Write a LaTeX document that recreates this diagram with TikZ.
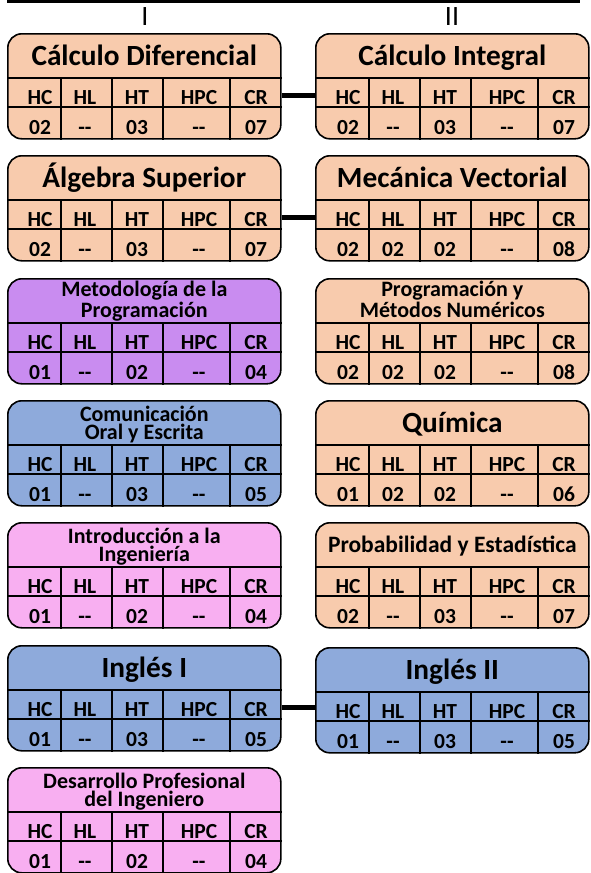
\documentclass[tikz,border=0pt]{standalone}
\usepackage{fontspec}
\setmainfont{Carlito}
\usetikzlibrary{positioning}
\definecolor{peach}{HTML}{F8CBAD}
\definecolor{lila}{HTML}{C98CF0}
\definecolor{azul}{HTML}{8EAADB}
\definecolor{rosa}{HTML}{F8AFF1}
\newcommand{\nohrs}{-{}-}

\begin{document}
\begin{tikzpicture}
  [x=1pt,y=-1pt,every node/.style={font=\bfseries}]
  \tikzstyle{course} = [draw,line width=1.6pt,rounded corners=14pt,minimum width=273pt,minimum height=105pt,inner sep=0pt,anchor=north west]
  \tikzstyle{ttlbig} = [font=\fontsize{29.3}{32}\selectfont\bfseries,anchor=base,inner sep=0pt]
  \tikzstyle{ttlsmall} = [font=\fontsize{22}{18}\selectfont\bfseries,anchor=base,align=center,inner sep=0pt]
  \tikzstyle{ttlmid} = [font=\fontsize{23.5}{25}\selectfont\bfseries,anchor=base,inner sep=0pt]
  \tikzstyle{cell} = [font=\fontsize{21.5}{22}\selectfont\bfseries,anchor=base,inner sep=0pt]
  \tikzstyle{grid} = [line width=1.3pt]
  \tikzstyle{link} = [line width=5pt]
  \tikzstyle{sem} = [font=\fontsize{28}{30}\selectfont,inner sep=0pt]
  \useasboundingbox (0,0) rectangle (590,873);
  \draw[line width=3pt] (7,1.5) -- (580,1.5);
  \node[sem] (semI) at (145,17) {I};
  \node[sem] (semII) at (452,17) {II};
  \foreach \nm/\px/\py/\col/\fs/\ty/\ttl/\va/\vb/\vc/\vd/\ve in {
    cd/7/33/peach/ttlbig/32/{Cálculo Diferencial}/02/\nohrs/03/\nohrs/07,
    as/7/155/peach/ttlbig/32/{Álgebra Superior}/02/\nohrs/03/\nohrs/07,
    mp/7/278/lila/ttlsmall/39/{Metodología de la\\Programación}/01/\nohrs/02/\nohrs/04,
    co/7/400/azul/ttlsmall/39/{Comunicación\\Oral y Escrita}/01/\nohrs/03/\nohrs/05,
    ii/7/522/rosa/ttlsmall/39/{Introducción a la\\Ingeniería}/01/\nohrs/02/\nohrs/04,
    in1/7/645/azul/ttlbig/32/{Inglés I}/01/\nohrs/03/\nohrs/05,
    dp/7/767/rosa/ttlsmall/39/{Desarrollo Profesional\\del Ingeniero}/01/\nohrs/02/\nohrs/04,
    ci/315/33/peach/ttlbig/32/{Cálculo Integral}/02/\nohrs/03/\nohrs/07,
    mv/315/155/peach/ttlbig/32/{Mecánica Vectorial}/02/02/02/\nohrs/08,
    pm/315/278/peach/ttlsmall/39/{Programación y\\Métodos Numéricos}/02/02/02/\nohrs/08,
    qu/315/400/peach/ttlbig/32/{Química}/01/02/02/\nohrs/06,
    pe/315/522/peach/ttlmid/30/{Probabilidad y Estadística}/02/\nohrs/03/\nohrs/07,
    in2/315/647/azul/ttlbig/32/{Inglés II}/01/\nohrs/03/\nohrs/05}
  {
    \node[course,fill=\col] (\nm) at (\px,\py) {};
    \node[\fs] (\nm-t) at ([yshift=-\ty pt]\nm.north) {\ttl};
    \draw[grid] ([yshift=-45pt]\nm.north west) -- ([yshift=-45pt]\nm.north east);
    \draw[grid] ([yshift=-74pt]\nm.north west) -- ([yshift=-74pt]\nm.north east);
    \foreach \dx in {54,105,156,223}
      \draw[grid] ([xshift=\dx pt,yshift=-45pt]\nm.north west) -- ([xshift=\dx pt]\nm.south west);
    \foreach \lx/\lab in {33/HC,78/HL,130/HT,192/HPC,249/CR}
      \node[cell] (\nm-\lab) at ([xshift=\lx pt,yshift=-71pt]\nm.north west) {\lab};
    \foreach \lx/\val [count=\i] in {33/\va,78/\vb,130/\vc,192/\vd,249/\ve}
      \node[cell] (\nm-v\i) at ([xshift=\lx pt,yshift=-101pt]\nm.north west) {\val};
    \coordinate (\nm-c) at ([yshift=-62pt]\nm.north east);
  }
  \foreach \a/\b in {cd/ci,as/mv,in1/in2}
    \draw[link] (\a-c) -- (\a-c -| \b.west);
\end{tikzpicture}
\end{document}
